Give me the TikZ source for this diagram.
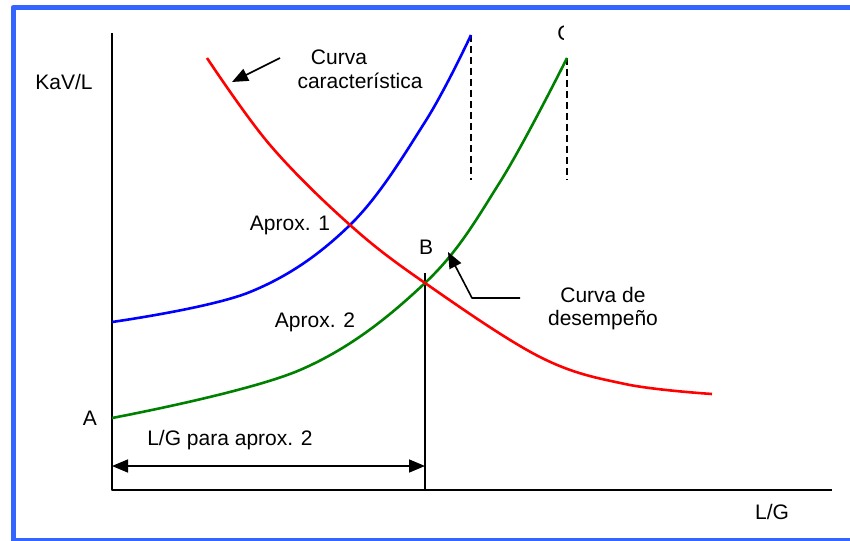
\documentclass[tikz,border=0pt]{standalone}
\usepackage{fontspec}
\setmainfont{Liberation Sans}
\usetikzlibrary{arrows.meta}
\definecolor{frameblue}{RGB}{51,102,255}
\definecolor{perfgreen}{RGB}{0,128,0}
\begin{document}
\begin{tikzpicture}[x=1pt,y=-1pt,line join=round,
	lbl/.style={font=\fontsize{21}{23}\selectfont,inner sep=0pt},
	curve/.style={line width=2.6pt},
	ptr/.style={line width=1.6pt,-{Triangle[length=16pt,width=13pt]}}]
	  \useasboundingbox (0,0) rectangle (850,540);
	  \clip (0,0) rectangle (850,540);
	  \draw[frameblue,line width=5pt] (860,7.5)--(13,7.5)--(13,540.5)--(860,540.5);
	  \foreach \x/\y/\z in {112/33/Ytop,112/490/O,832/490/Xend,425/273/Btop,425/490/Bfoot,
	  112/466/Dl,425/466/Dr,471/35/P1,471/180/P1b,567/58/P2,567/180/P2b,
	  280/58/Ctail,232/82/Ctip,520/298/Dtail,472/298/Dknee,448/252/Dtip}{
	      \path (\x,\y) coordinate (\z);
	  }
	  \draw[line width=1.6pt] (Ytop)--(O)--(Xend) (Btop)--(Bfoot);
	  \draw[line width=1.6pt,dash pattern=on 7pt off 4pt] (P1)--(P1b) (P2)--(P2b);
	  \draw[blue,curve] plot[smooth,tension=0.6] coordinates {(112,322) (250,292) (350,225) (425,122) (P1)};
	  \draw[perfgreen,curve] plot[smooth,tension=0.6] coordinates {(112,418) (300,370) (425,283) (500,182) (P2)};
	  \draw[red,curve] plot[smooth,tension=0.6] coordinates {(207,58) (270,145) (350,225) (425,283) (540,357) (625,384) (712,394)};
	  \draw[line width=1.6pt,{Triangle[length=16pt,width=13pt]}-{Triangle[length=16pt,width=13pt]}] (Dl)--(Dr);
	  \draw[ptr] (Ctail)--(Ctip);
	  \draw[ptr] (Dtail)--(Dknee)--(Dtip);
	  \node[lbl] (kav) at (64,82) {KaV/L};
	  \node[lbl] (lg) at (772,512) {L/G};
	  \node[lbl] (ptA) at (90,418) {A};
	  \node[lbl] (ptB) at (426,247) {B};
	  \begin{scope}
	  	\clip (540,20) rectangle (563,45);
	  	\node[lbl] (ptC) at (565,33) {C};
	  \end{scope}
	  \node[lbl] (ap1) at (290,225) {Aprox. 1};
	  \node[lbl] (ap2) at (315,322) {Aprox. 2};
	  \node[lbl] (lgap) at (230,440) {L/G para aprox. 2};
	  \node[lbl] (cc1) at (339,57) {Curva};
	  \node[lbl] (cc2) at (360,81) {característica};
	  \node[lbl,align=center] (cd) at (603,309) {Curva de\\desempeño};
  \end{tikzpicture}
\end{document}
